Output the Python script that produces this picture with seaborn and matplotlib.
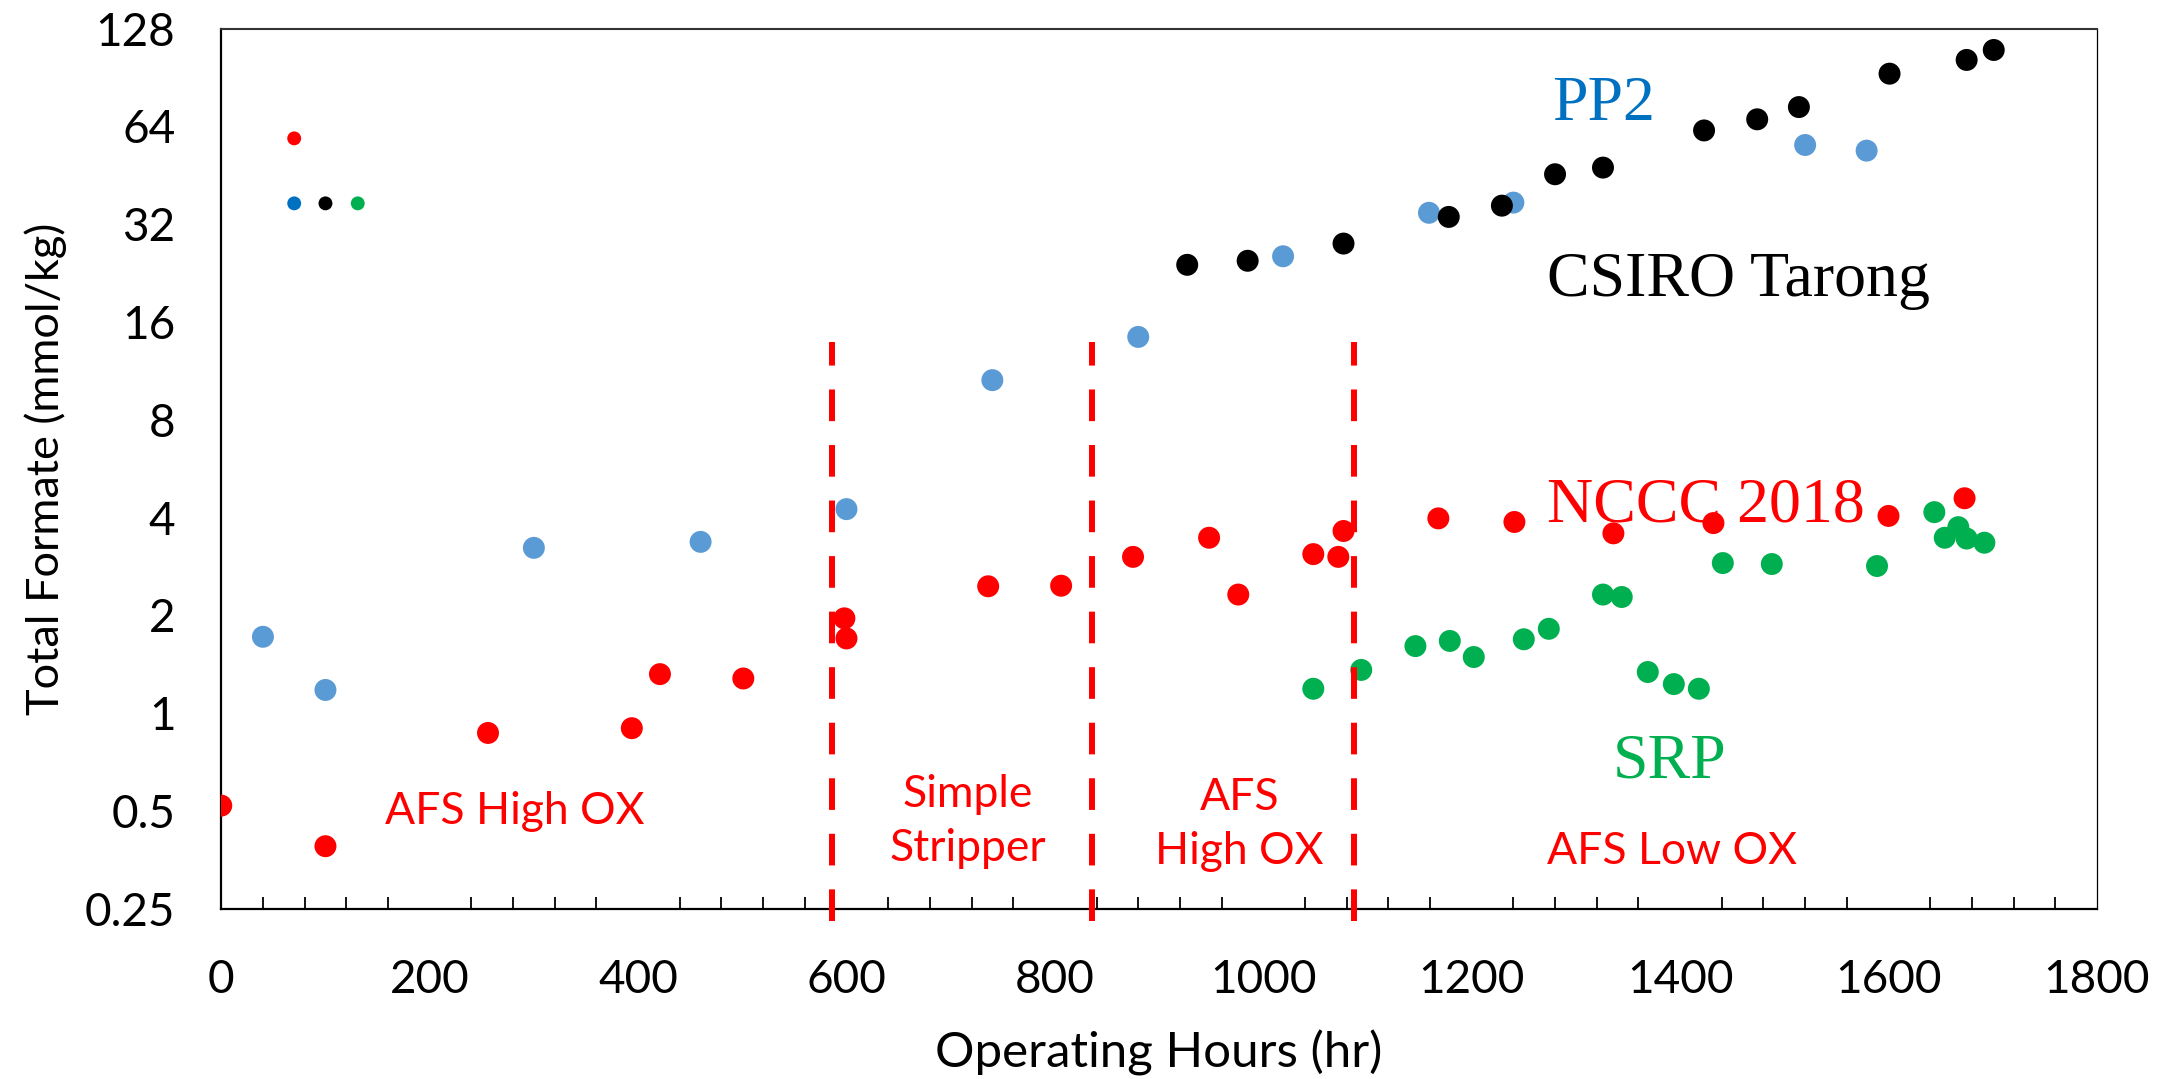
import matplotlib
matplotlib.use("Agg")
import matplotlib.pyplot as plt
import seaborn as sns
import pandas as pd
from matplotlib.ticker import FixedLocator, NullFormatter

# ---------------- data ----------------
nccc_hours = [0, 100, 256, 394, 421, 501, 598, 600, 736, 806, 875, 948, 976,
              1048, 1072, 1077, 1168, 1241, 1336, 1432, 1600, 1673]
nccc_formate = [0.52, 0.39, 0.87, 0.90, 1.32, 1.28, 1.96, 1.70, 2.46, 2.47, 3.03,
                3.47, 2.32, 3.09, 3.03, 3.64, 3.98, 3.88, 3.58, 3.85, 4.05, 4.59]

pp2_hours = [40, 100, 300, 460, 600, 740, 880, 1019, 1159, 1240, 1520, 1579]
pp2_formate = [1.72, 1.18, 3.23, 3.37, 4.25, 10.6, 14.4, 25.5, 34.7, 37.3, 56.1, 53.9]

csiro_hours = [927, 985, 1077, 1178, 1229, 1280, 1326, 1423, 1474, 1514, 1601, 1675, 1701]
csiro_formate = [24.0, 24.7, 27.9, 33.7, 36.5, 45.6, 47.8, 62.2, 67.3, 73.4, 93.0, 102.5, 110.0]

srp_hours = [1048, 1094, 1146, 1179, 1202, 1250, 1274, 1326, 1344, 1369, 1394, 1418,
             1441, 1488, 1589, 1644, 1654, 1667, 1675, 1692]
srp_formate = [1.19, 1.36, 1.61, 1.67, 1.49, 1.69, 1.82, 2.32, 2.28, 1.34, 1.23, 1.19,
               2.90, 2.88, 2.84, 4.16, 3.47, 3.74, 3.45, 3.35]

# small key markers near the top-left
key_series = ["NCCC key", "PP2 key", "CSIRO key", "SRP key"]
key_hours = [70, 70, 100, 131]
key_formate = [58.8, 37.1, 37.1, 37.1]
key_colors = ["#FF0000", "#0070C0", "#000000", "#00B050"]

series_names = ["NCCC 2018", "PP2", "CSIRO Tarong", "SRP"]
series_colors = ["#FF0000", "#5B9BD5", "#000000", "#00B050"]

phase_bounds = [586, 836, 1087]
phase_line_range = [0.229, 13.9]

y_ticks = [0.25, 0.5, 1, 2, 4, 8, 16, 32, 64, 128]
y_tick_labels = ["0.25", "0.5", "1", "2", "4", "8", "16", "32", "64", "128"]
x_ticks = [0, 200, 400, 600, 800, 1000, 1200, 1400, 1600, 1800]

series_text = ["PP2", "CSIRO Tarong", "NCCC 2018", "SRP"]
series_text_x = [1327, 1272, 1272, 1390]
series_text_y = [67, 19.2, 3.9, 0.635]
series_text_ha = ["center", "left", "left", "center"]
series_text_color = ["#0070C0", "#000000", "#FF0000", "#00B050"]

phase_text = ["AFS High OX", "Simple\nStripper", "AFS\nHigh OX", "AFS Low OX"]
phase_text_x = [282, 716, 977, 1392]
phase_text_y = [0.458, 0.35, 0.343, 0.343]

# ---------------- build frame ----------------
df = pd.concat([
    pd.DataFrame({"Hours": nccc_hours, "Formate": nccc_formate, "Series": "NCCC 2018"}),
    pd.DataFrame({"Hours": pp2_hours, "Formate": pp2_formate, "Series": "PP2"}),
    pd.DataFrame({"Hours": csiro_hours, "Formate": csiro_formate, "Series": "CSIRO Tarong"}),
    pd.DataFrame({"Hours": srp_hours, "Formate": srp_formate, "Series": "SRP"}),
], ignore_index=True)
key_df = pd.DataFrame({"Hours": key_hours, "Formate": key_formate, "Series": key_series})

sns.set_style("white")
plt.rcParams["font.family"] = ["Lato", "DejaVu Sans"]

fig = plt.figure(figsize=(21.82, 10.79), dpi=100)
ax = fig.add_axes([0.1014, 0.1576, 0.961 - 0.1014, 0.9735 - 0.1576])

sns.scatterplot(data=df, x="Hours", y="Formate", hue="Series",
                hue_order=series_names, palette=dict(zip(series_names, series_colors)),
                s=250, linewidth=0, legend=False, ax=ax, zorder=3)
sns.scatterplot(data=key_df, x="Hours", y="Formate", hue="Series",
                hue_order=key_series, palette=dict(zip(key_series, key_colors)),
                s=100, linewidth=0, legend=False, ax=ax, zorder=3)

for xb in phase_bounds:
    ax.plot([xb, xb], phase_line_range, color="#FF0000", lw=4.3,
            dashes=(5.3, 4.0), clip_on=False, zorder=4, solid_capstyle="butt")

ax.set_yscale("log", base=2)
ax.set_ylim(0.25, 128)
ax.set_xlim(0, 1800)
ax.yaxis.set_major_locator(FixedLocator(y_ticks))
ax.set_yticks(y_ticks)
ax.set_yticklabels(y_tick_labels)
ax.yaxis.set_minor_locator(FixedLocator([]))
ax.set_xticks(x_ticks)
ax.set_xticks(list(range(0, 1801, 40)), minor=True)
ax.xaxis.set_minor_formatter(NullFormatter())

ax.tick_params(axis="both", which="major", direction="inout", length=24, width=1.4,
               color="black", labelsize=33, labelcolor="black")
ax.tick_params(axis="x", which="major", pad=24)
ax.tick_params(axis="y", which="major", pad=21)
ax.tick_params(axis="x", which="minor", direction="in", length=9, width=1.3,
               color="black", bottom=True)

for side in ["left", "bottom"]:
    ax.spines[side].set_color("black")
    ax.spines[side].set_linewidth(1.6)
ax.spines["top"].set_color("#333333")
ax.spines["top"].set_linewidth(1.5)
ax.spines["right"].set_color("black")
ax.spines["right"].set_linewidth(0.9)

ax.set_xlabel("Operating Hours (hr)", fontsize=35.5, color="black")
ax.set_ylabel("Total Formate (mmol/kg)", fontsize=32.5, color="black")
ax.xaxis.set_label_coords(0.5, -0.137)
ax.yaxis.set_label_coords(-0.082, 0.5)

for t, x, y, ha, c in zip(series_text, series_text_x, series_text_y,
                          series_text_ha, series_text_color):
    ax.text(x, y, t, ha=ha, va="baseline", color=c, fontsize=46,
            family=["Liberation Serif", "DejaVu Serif"], zorder=2)

for t, x, y in zip(phase_text, phase_text_x, phase_text_y):
    ax.text(x, y, t, ha="center", va="baseline", color="#FF0000", fontsize=32,
            linespacing=1.4, multialignment="center", zorder=2)

fig.savefig("out.png", dpi=100)
